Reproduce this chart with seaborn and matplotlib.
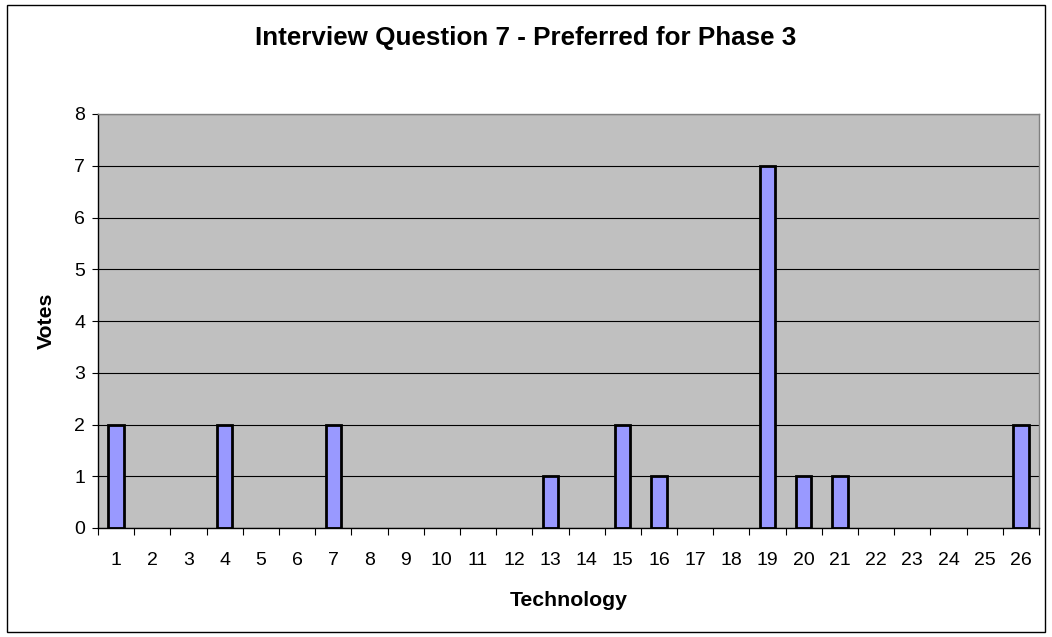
import pandas as pd
import matplotlib.pyplot as plt
import seaborn as sns
from matplotlib.patches import Rectangle
from matplotlib.ticker import FixedLocator

# ---- data ----
technology = [str(i) for i in range(1, 27)]
votes = [2, 0, 0, 2, 0, 0, 2, 0, 0, 0, 0, 0, 1, 0, 2, 1, 0, 0, 7, 1, 1, 0, 0, 0, 0, 2]

df = pd.DataFrame({'Technology': technology, 'Votes': votes})

sns.set_style('white')
plt.rcParams['font.family'] = ['Liberation Sans', 'DejaVu Sans']
plt.rcParams['text.color'] = 'black'
plt.rcParams['axes.labelcolor'] = 'black'
plt.rcParams['xtick.color'] = 'black'
plt.rcParams['ytick.color'] = 'black'

fig = plt.figure(figsize=(10.52, 6.37), dpi=100)
ax = fig.add_axes([98 / 1052, 1 - 528 / 637, (1039 - 98) / 1052, (528 - 114) / 637])
ax.set_facecolor('#C0C0C0')

sns.barplot(data=df, x='Technology', y='Votes', order=technology, ax=ax,
            color='#9999FF', width=0.42, edgecolor='black', linewidth=2.0,
            saturation=1)

# empty categories show no mark in the original
for p in ax.patches:
    if p.get_height() == 0:
        p.set_visible(False)

ax.set_xlim(-0.5, len(technology) - 0.5)
ax.set_ylim(0, 8)
ax.set_yticks(range(0, 9))
ax.yaxis.grid(True, color='black', linewidth=0.8)
ax.set_axisbelow(True)

# ticks between categories, labels centred
ax.xaxis.set_minor_locator(FixedLocator([i - 0.5 for i in range(len(technology) + 1)]))
ax.tick_params(axis='x', which='major', length=0, pad=17, labelsize=14)
ax.tick_params(axis='x', which='minor', length=5, width=0.8, color='black', direction='out', bottom=True)
ax.tick_params(axis='y', which='major', length=4.3, width=0.8, color='black', direction='out', left=True,
               pad=5, labelsize=14)

for s in ['left', 'bottom']:
    ax.spines[s].set_color('black')
    ax.spines[s].set_linewidth(1.0)
for s in ['right', 'top']:
    ax.spines[s].set_color('#808080')
    ax.spines[s].set_linewidth(1.0)
    ax.spines[s].set_visible(True)

ax.set_xlabel('Technology', fontsize=15.3, fontweight='bold')
ax.xaxis.label.set_verticalalignment('center')
ax.xaxis.set_label_coords(0.5, (528 - 601) / 414)
ax.set_ylabel('Votes', fontsize=15.3, fontweight='bold')
ax.yaxis.label.set_verticalalignment('center')
ax.yaxis.set_label_coords((46 - 98) / 941, 0.5)

fig.text(0.5, 1 - 38.5 / 637, 'Interview Question 7 - Preferred for Phase 3',
         ha='center', va='center', fontsize=18.7, fontweight='bold')

# outer chart border
fig.patches.append(Rectangle((7 / 1052, 1 - 632 / 637), (1045 - 7) / 1052, (632 - 5) / 637,
                             transform=fig.transFigure, fill=False, edgecolor='black', linewidth=1.0))

fig.savefig('out.png', dpi=100)
